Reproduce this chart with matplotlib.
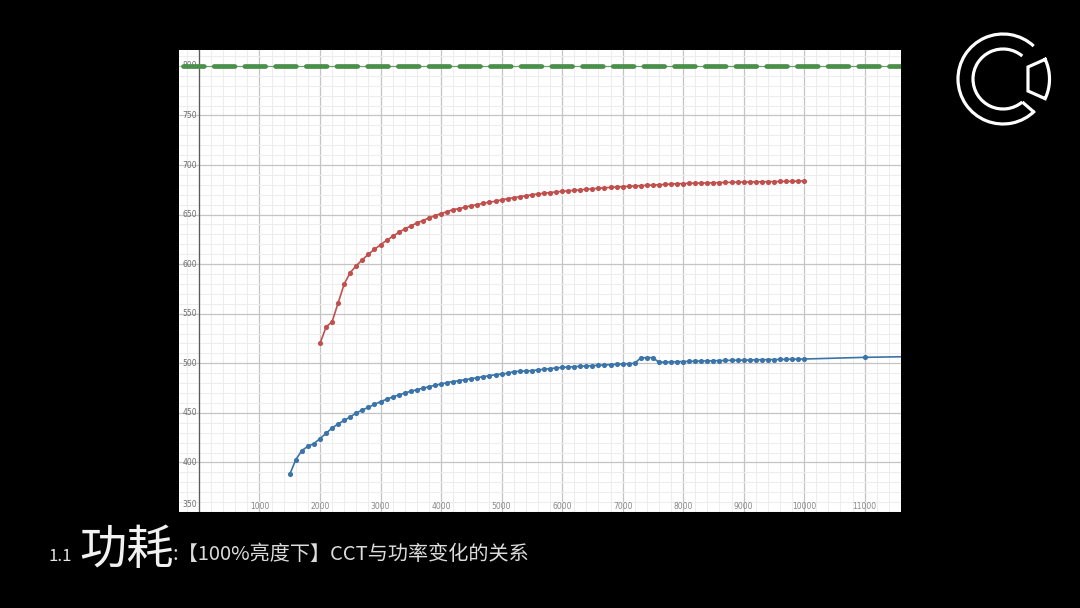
import numpy as np
import matplotlib
matplotlib.use("Agg")
import matplotlib.pyplot as plt
from matplotlib.patches import Arc
from matplotlib.ticker import MultipleLocator

plt.rcParams['font.family'] = ['Noto Sans CJK SC', 'DejaVu Sans']

# ---- data ----
red_cct = list(range(2000, 10001, 100))
red_power = [520, 536.5, 542, 561, 580, 591.5, 598.5, 604.5, 610, 615,
             619.5, 624, 628, 632, 635.5, 638.5, 641.5, 644, 646.5, 649,
             651, 653, 655, 656, 657.5, 659, 660, 661.5, 662.5, 663.5,
             665, 666, 667, 668, 669, 670, 670.8, 671.5, 672.2, 672.8,
             673.5, 674, 674.5, 675, 675.5, 676, 676.5, 677, 677.4, 677.8,
             678.2, 678.5, 678.8, 679.2, 679.5, 679.8, 680.1, 680.4, 680.9, 681.1,
             681.3, 681.5, 681.7, 681.8, 682, 682.1, 682.3, 682.4, 682.5, 682.7,
             682.8, 682.9, 683, 683.1, 683.2, 683.3, 683.4, 683.5, 683.6, 683.8, 684]

blue_cct = list(range(1500, 10001, 100)) + [11000, 12000]
blue_power = [388, 402.8, 412, 416.3, 419, 424, 429.4, 434.8, 438.8, 442.5,
              445.9, 449.9, 452.9, 455.6, 458.6, 461.3, 463.7, 466, 468, 470,
              471.7, 473.4, 474.8, 476.4, 477.8, 479.1, 480.5, 481.5, 482.5, 483.5,
              484.5, 485.5, 486.5, 487.5, 488.5, 489.2, 489.9, 491.6, 492, 492.3,
              492.6, 493.3, 494, 494.6, 495.3, 495.8, 496.2, 496.6, 497, 497.3,
              497.6, 498, 498.3, 498.6, 499, 499.3, 499.6, 500, 505.5, 505.7,
              505.7, 501, 501.2, 501.4, 501.6, 501.8, 502, 502.1, 502.3, 502.4,
              502.6, 502.7, 502.9, 503, 503.1, 503.2, 503.3, 503.5, 503.6, 503.7,
              503.8, 503.9, 504, 504.1, 504.2, 504.3, 506, 507]

limit_value = 800
x_ticks = list(range(1000, 11001, 1000))
y_ticks = list(range(350, 801, 50))

title_num = "1.1"
title_main = "功耗"
title_sub = ":【100%亮度下】CCT与功率变化的关系"

# ---- figure ----
fig = plt.figure(figsize=(10.8, 6.08), dpi=100, facecolor='black')
ax = fig.add_axes([179/1080, 1 - 512/608, 722/1080, 462/608])
ax.set_facecolor('white')
ax.set_xlim(-330, 11600)
ax.set_ylim(350, 816)

ax.xaxis.set_major_locator(MultipleLocator(1000))
ax.xaxis.set_minor_locator(MultipleLocator(200))
ax.yaxis.set_major_locator(MultipleLocator(50))
ax.yaxis.set_minor_locator(MultipleLocator(10))
ax.grid(which='minor', color='#ededed', linewidth=0.8)
ax.grid(which='major', color='#c4c4c4', linewidth=0.9)
ax.set_axisbelow(True)
ax.tick_params(which='both', length=0, labelbottom=False, labelleft=False)
for s in ax.spines.values():
    s.set_visible(False)
ax.axvline(0, color='#5a5a5a', linewidth=0.9, zorder=1)

# tick labels inside the plot
for t in x_ticks:
    ax.text(t, 351.5, str(t), fontsize=5.5, color='#888888',
            ha='center', va='bottom', family='DejaVu Sans')
for t in y_ticks:
    ax.text(-30, t + (3 if t == 350 else 0), str(t), fontsize=5.5, color='#6e6e6e',
            ha='right', va='bottom' if t == 350 else 'center', family='DejaVu Sans')

# limit line
ax.plot([-270, 11600], [limit_value, limit_value], color='#4a8f4a', linewidth=0.8,
        alpha=0.7, zorder=3)
ln, = ax.plot([-270, 11600], [limit_value, limit_value], color='#4a8f4a', linewidth=3.4,
              solid_capstyle='round', dash_capstyle='round', zorder=4)
ln.set_dashes((4.4, 2.1))

ax.plot(red_cct, red_power, color='#c0504d', linewidth=1.2, marker='o',
        markersize=3.7, markeredgewidth=0, zorder=5, clip_on=True)
ax.plot(blue_cct, blue_power, color='#3a74a8', linewidth=1.2, marker='o',
        markersize=3.7, markeredgewidth=0, zorder=5, clip_on=True)

# ---- logo ----
lax = fig.add_axes([950/1080, 1 - 132/608, 106/1080, 106/608])
lax.set_xlim(950, 1056)
lax.set_ylim(132, 26)
lax.set_aspect('equal')
lax.axis('off')
lax.set_facecolor('none')
cx, cy = 1003, 79
lw = 2.3
lax.add_patch(Arc((cx, cy), 90, 90, angle=0, theta1=45, theta2=313,
                  color='white', lw=lw))
lax.add_patch(Arc((cx, cy), 60, 60, angle=0, theta1=50, theta2=310,
                  color='white', lw=lw))
# connector between the rings (lower side of the picture)
lax.plot([cx + 30*np.cos(np.deg2rad(50)), cx + 45*np.cos(np.deg2rad(47))],
         [cy + 30*np.sin(np.deg2rad(50)), cy + 45*np.sin(np.deg2rad(47))],
         color='white', lw=lw, solid_capstyle='butt')
# right annular segment
th = np.deg2rad(np.linspace(-25, 25, 30))
ro = 46.5
xs = list(cx + ro*np.cos(th))
ys = list(cy + ro*np.sin(th))
xs += [cx + 25, cx + 25, xs[0]]
ys += [cy + 12, cy - 12, ys[0]]
lax.plot(xs, ys, color='white', lw=lw, solid_joinstyle='miter')

# ---- caption ----
fig.text(48/1080, 1 - 561/608, title_num, fontsize=12, color='#e6e6e6',
         ha='left', va='baseline', fontweight='light')
fig.text(79/1080, 1 - 564/608, title_main, fontsize=34, color='#f2f2f2',
         ha='left', va='baseline', fontweight='light')
fig.text(173/1080, 1 - 560/608, title_sub, fontsize=14.5, color='#dcdcdc',
         ha='left', va='baseline', fontweight='light')

fig.savefig('out.png', dpi=100, facecolor='black')
